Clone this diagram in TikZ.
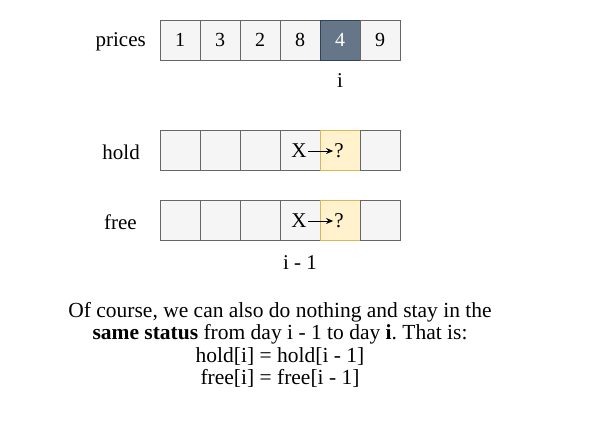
\documentclass[tikz,border=0pt]{standalone}
\usepackage{fontspec}
\setmainfont{Liberation Serif}
\usepackage{tikz}
\usetikzlibrary{arrows.meta,positioning}
\frenchspacing
\definecolor{cellfill}{HTML}{F5F5F5}
\definecolor{cellline}{HTML}{666666}
\definecolor{curfill}{HTML}{647687}
\definecolor{curline}{HTML}{314354}
\definecolor{askfill}{HTML}{FFF2CC}
\definecolor{askline}{HTML}{D6B656}
\tikzset{
  cell/.style={
    draw=cellline, fill=cellfill, line width=0.8pt,
    minimum width=40pt, minimum height=40pt, inner sep=0pt,
    font=\fontsize{20}{22}\selectfont
  },
  curcell/.style={cell, draw=curline, fill=curfill, text=white},
  askcell/.style={cell, draw=askline, fill=askfill},
  rowlabel/.style={font=\fontsize{21}{22}\selectfont, anchor=east, inner sep=0pt},
  idxlabel/.style={font=\fontsize{21}{22}\selectfont, inner sep=0pt},
  steparr/.style={-{Stealth[length=7pt,width=6pt]}, line width=1pt, shorten <=1pt, shorten >=1pt}
}
\begin{document}
\begin{tikzpicture}[x=1pt, y=-1pt]
  \useasboundingbox (0,0) rectangle (601,442);

  % prices row
  \foreach \v [count=\k] in {1,3,2,8,4,9} {
    \ifnum\k=5
      \node[curcell] (p\k) at (140+40*\k,40) {\v};
    \else
      \node[cell] (p\k) at (140+40*\k,40) {\v};
    \fi
  }
  \node[rowlabel] (plab) at (146,42) {prices};
  \node[idxlabel] (pidx) at (340,81) {i};

  % hold and free rows
  \foreach \r/\y in {h/150,f/220} {
    \foreach \k in {1,...,6} {
      \ifnum\k=5
        \node[askcell] (\r\k) at (140+40*\k,\y) {};
      \else
        \node[cell] (\r\k) at (140+40*\k,\y) {};
      \fi
    }
    \node[idxlabel] (\r x) at (299,\y+1) {X};
    \node[idxlabel] (\r q) at (339,\y+1) {?};
    \draw[steparr] (\r x) -- (\r q);
  }
  \node[rowlabel] (hlab) at (140,152) {hold};
  \node[rowlabel] (flab) at (137,222) {free};
  \node[idxlabel] (fidx) at (300,263) {i - 1};

  % explanation
  \node[align=center, font=\fontsize{21.5}{22.5}\selectfont] (note) at (280,345)
    {Of course, we can also do nothing and stay in the\\
     \textbf{same status} from day i - 1 to day \textbf{i}. That is:\\
     hold[i] = hold[i - 1]\\
     free[i] = free[i - 1]};
\end{tikzpicture}
\end{document}
